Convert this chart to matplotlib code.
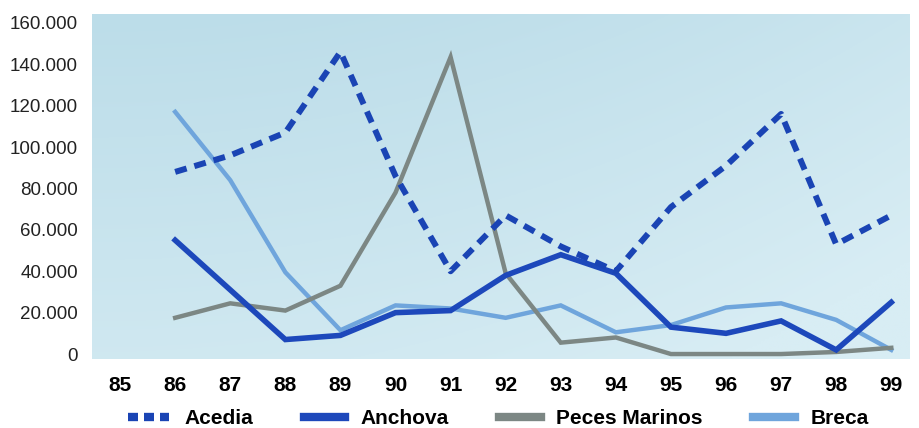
import numpy as np
import matplotlib.pyplot as plt
from matplotlib.lines import Line2D

plt.rcParams['font.family'] = ['Liberation Sans', 'DejaVu Sans']

years = [85, 86, 87, 88, 89, 90, 91, 92, 93, 94, 95, 96, 97, 98, 99]
years_data = years[1:]

acedia = [88000, 96000, 107000, 146000, 86000, 40000, 67000, 52000, 40000, 71000, 91000, 116000, 53000, 67000]
anchova = [55000, 31000, 7000, 9000, 20000, 21000, 38000, 48000, 39000, 13000, 10000, 16000, 2000, 25000]
peces = [17500, 24500, 21000, 33000, 78000, 143500, 39000, 5500, 8000, 0, 0, 0, 1000, 3000]
breca = [117000, 84000, 39500, 11500, 23500, 22000, 17500, 23500, 10500, 14000, 22500, 24500, 16500, 2000]

y_ticks = [0, 20000, 40000, 60000, 80000, 100000, 120000, 140000, 160000]
y_labels = ['0', '20.000', '40.000', '60.000', '80.000', '100.000', '120.000', '140.000', '160.000']

fig = plt.figure(figsize=(9.19, 4.28), dpi=100)
ax = fig.add_axes([92 / 919, 1 - 359 / 428, (910 - 92) / 919, (359 - 14) / 428])

# light blue background, a bit darker at the top-left
gy, gx = np.mgrid[0:1:200j, 0:1:200j]
top = np.array([188, 221, 233]) / 255
low = np.array([216, 237, 244]) / 255
t = np.clip(0.7 * gy + 0.5 * gx ** 2, 0, 1)[..., None]
img = top * (1 - t) + low * t
ax.imshow(img, extent=(0, 1, 0, 1), transform=ax.transAxes, aspect='auto',
          origin='upper', zorder=0)

c_acedia = '#1a44b4'
c_anchova = '#1d48bb'
c_peces = '#7c8784'
c_breca = '#6fa5dc'

ax.plot(years_data, breca, color=c_breca, lw=3.2, zorder=2, solid_joinstyle='miter')
ax.plot(years_data, peces, color=c_peces, lw=3.2, zorder=3, solid_joinstyle='miter')
ax.plot(years_data, anchova, color=c_anchova, lw=4, zorder=4, solid_joinstyle='miter')
ax.plot(years_data, acedia, color=c_acedia, lw=4.3, zorder=5, dashes=(2.0, 1.35),
        dash_capstyle='butt')

ax.set_xlim(84.49, 99.34)
ax.set_ylim(-2400, 164300)
ax.set_xticks(years)
ax.set_xticklabels([str(y) for y in years], fontsize=15, fontweight='bold')
ax.set_yticks(y_ticks)
ax.set_yticklabels(y_labels, fontsize=13.5, color='#222222')
ax.tick_params(length=0)
ax.tick_params(axis='x', pad=12)
ax.tick_params(axis='y', pad=10)
for s in ax.spines.values():
    s.set_visible(False)

handles = [
    Line2D([], [], color=c_acedia, lw=6, dashes=(1.2, 0.72), dash_capstyle='butt'),
    Line2D([], [], color=c_anchova, lw=6),
    Line2D([], [], color=c_peces, lw=6),
    Line2D([], [], color=c_breca, lw=6),
]
fig.legend(handles, ['Acedia', 'Anchova', 'Peces Marinos', 'Breca'],
           loc='center', bbox_to_anchor=(498 / 919, 1 - 419 / 428), ncol=4,
           frameon=False, prop={'size': 15, 'weight': 'bold'},
           handlelength=2.0, handletextpad=0.75, columnspacing=2.4)

fig.savefig('out.png', dpi=100)
